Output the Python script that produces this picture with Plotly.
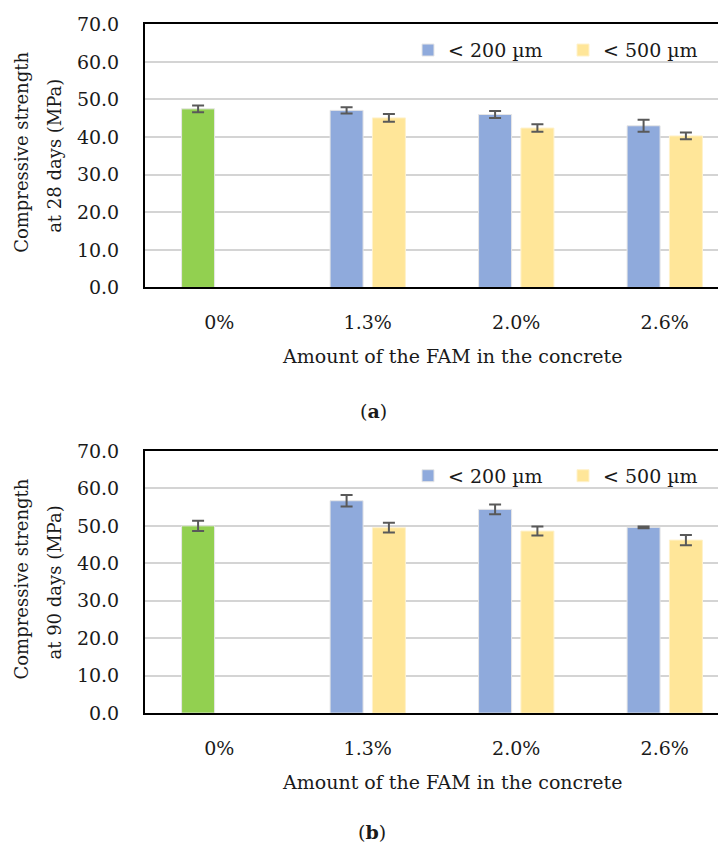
import plotly.graph_objects as go

categories = ["0%", "1.3%", "2.0%", "2.6%"]
fam_cats = ["1.3%", "2.0%", "2.6%"]

# (a) 28 days
ref28 = [47.5]
ref28_err = [0.9]
s200_28 = [47.1, 46.0, 43.0]
s200_28_err = [0.85, 0.95, 1.6]
s500_28 = [45.1, 42.4, 40.3]
s500_28_err = [1.05, 1.0, 0.9]

# (b) 90 days
ref90 = [50.0]
ref90_err = [1.35]
s200_90 = [56.7, 54.4, 49.6]
s200_90_err = [1.55, 1.3, 0.25]
s500_90 = [49.5, 48.6, 46.2]
s500_90_err = [1.3, 1.2, 1.35]

y_ticks = [0, 10, 20, 30, 40, 50, 60, 70]

GREEN = "#92d050"
BLUE = "#8faadc"
YELLOW = "#ffe699"
ERR = "#595959"
FONT = "DejaVu Serif"
FS = 19
TXT = "#1a1a1a"

# page body has an 8px margin; the figure is sized/positioned to compensate
OFF = 8
W, H = 726 - OFF, 853 - OFF
VA, VB = 0.977, 9.9  # observed vertical mapping of the photographed page

def py(px):
    page = (px - VB) / VA
    return 1 - (page - OFF) / H

def pxx(px):
    return (px - OFF) / W

fig = go.Figure()

def add_set(ref, ref_err, s200, s200_err, s500, s500_err, xa, ya, leg):
    err = lambda e: dict(type="data", array=e, visible=True, color=ERR, thickness=2, width=6)
    fig.add_trace(go.Bar(x=["0%"], y=ref, error_y=err(ref_err),
                         marker=dict(color=GREEN, line=dict(color="#e6e6e6", width=1)),
                         offsetgroup="a", showlegend=False, xaxis=xa, yaxis=ya, legend=leg, name="0%"))
    fig.add_trace(go.Bar(x=fam_cats, y=s200, error_y=err(s200_err),
                         marker=dict(color=BLUE, line=dict(color="#e6e6e6", width=1)),
                         offsetgroup="a", name="< 200 µm", xaxis=xa, yaxis=ya, legend=leg, showlegend=True))
    fig.add_trace(go.Bar(x=fam_cats, y=s500, error_y=err(s500_err),
                         marker=dict(color=YELLOW, line=dict(color="#fff2cc", width=1)),
                         offsetgroup="b", name="< 500 µm", xaxis=xa, yaxis=ya, legend=leg, showlegend=True))

add_set(ref28, ref28_err, s200_28, s200_28_err, s500_28, s500_28_err, "x", "y", "legend")
add_set(ref90, ref90_err, s200_90, s200_90_err, s500_90, s500_90_err, "x2", "y2", "legend2")

top = (23, 287)
bot = (451, 714)
left = 145
xmax = 3.5 - (148.5 * 4 - (726 - left)) / 148.5

xcommon = dict(type="category", categoryorder="array", categoryarray=categories,
               range=[-0.5, xmax], showline=True, linecolor="black", linewidth=2, mirror=True,
               showgrid=False, ticks="", ticklabelstandoff=17,
               tickfont=dict(family=FONT, size=FS, color=TXT), fixedrange=True)
ycommon = dict(range=[0, 70], tickvals=y_ticks, tickformat=".1f", showline=True, linecolor="black",
               linewidth=2, showgrid=True, gridcolor="#d4d4d4", gridwidth=1.5, zeroline=False,
               ticks="", ticklabelstandoff=20, tickfont=dict(family=FONT, size=FS, color=TXT))

leg_common = dict(orientation="h", x=pxx(408), xanchor="left", yanchor="middle",
                  font=dict(family=FONT, size=FS, color=TXT), bgcolor="rgba(0,0,0,0)",
                  entrywidth=110, traceorder="normal")

fig.update_layout(
    width=W, height=H, margin=dict(l=0, r=0, t=0, b=0),
    paper_bgcolor="white", plot_bgcolor="white",
    barmode="group", bargap=0.43, bargroupgap=0.22,
    xaxis=dict(domain=[pxx(left), 1], anchor="y", **xcommon),
    yaxis=dict(domain=[py(top[1]), py(top[0])], anchor="x", **ycommon),
    xaxis2=dict(domain=[pxx(left), 1], anchor="y2", **xcommon),
    yaxis2=dict(domain=[py(bot[1]), py(bot[0])], anchor="x2", **ycommon),
    legend=dict(y=py(49), **leg_common),
    legend2=dict(y=py(476), **leg_common),
    showlegend=True,
)

ann = []
def txt(x, y, s, angle=0, size=FS):
    ann.append(dict(x=pxx(x), y=max(py(y), 10 / H), xref="paper", yref="paper", text=s, showarrow=False,
                    textangle=angle, xanchor="center", yanchor="middle",
                    font=dict(family=FONT, size=size, color=TXT)))

txt(22, 152, "Compressive strength", -90, 18)
txt(55, 155, "at 28 days (MPa)", -90, 18)
txt(22, 580, "Compressive strength", -90, 18)
txt(55, 583, "at 90 days (MPa)", -90, 18)
txt(452, 356, "Amount of the FAM in the concrete")
txt(452, 783, "Amount of the FAM in the concrete")
txt(373, 411, "(<b>a</b>)")
txt(372, 839, "(<b>b</b>)")
fig.update_layout(annotations=ann)

fig.write_html("out.html")
